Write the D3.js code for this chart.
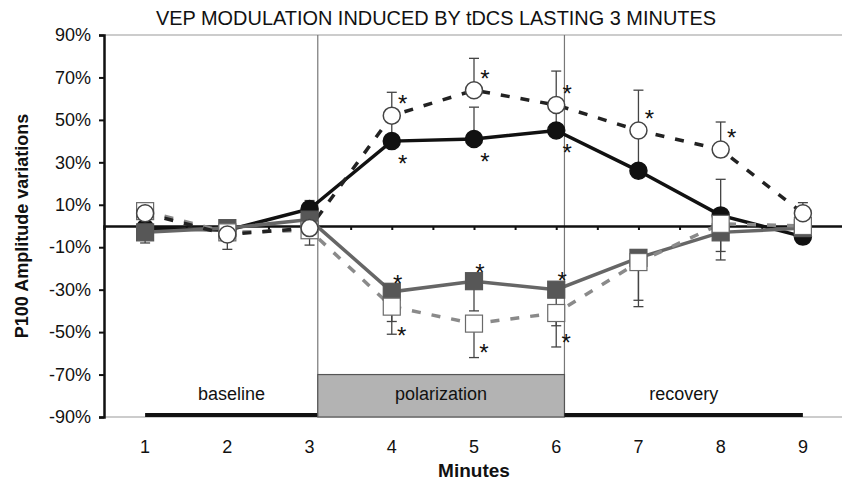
<!DOCTYPE html>
<html>
<head>
<meta charset="utf-8">
<script src="https://cdn.jsdelivr.net/npm/d3@7"></script>
<style>
    body { margin: 0; background: #fff; }
    text { font-family: "Liberation Sans", Arial, sans-serif; fill: #111; }
</style>
</head>
<body>
<div id="chart"></div>
<script>
// minutes of recording
const minutes = [1, 2, 3, 4, 5, 6, 7, 8, 9];
const yTicks = [90, 70, 50, 30, 10, -10, -30, -50, -70, -90];

// filled circles, solid black line
const filledCircle = [-1, -2, 8, 40, 41, 45, 26, 5, -5];
const filledCircleErr = [2, 2, 4, 12, 15, 14, 18, 17, 2];
const filledCircleSig = [0, 0, 0, 1, 1, 1, 0, 0, 0];

// open circles, dashed black line
const openCircle = [6, -4, -1, 52, 64, 57, 45, 36, 6];
const openCircleErr = [3, 3, 3, 11, 15, 16, 19, 13, 5];
const openCircleSig = [0, 0, 0, 1, 1, 1, 1, 1, 0];

// filled squares, solid grey line
const filledSquare = [-3, -1, 3, -31, -26, -30, -15, -3, -1];
const filledSquareErr = [5, 4, 4, 14, 14, 17, 20, 9, 3];
const filledSquareSig = [0, 0, 0, 1, 1, 1, 0, 0, 0];

// open squares, dashed grey line
const openSquare = [7, -3, -2, -38, -46, -41, -17, 1, 0];
const openSquareErr = [3, 8, 7, 13, 16, 16, 21, 17, 3];
const openSquareSig = [0, 0, 0, 1, 1, 1, 0, 0, 0];

// phases along the time axis
const phases = [
    { name: "baseline", from: 1, to: 3.1, boxed: false },
    { name: "polarization", from: 3.1, to: 6.1, boxed: true },
    { name: "recovery", from: 6.1, to: 9, boxed: false }
];

const width = 842, height = 483;
const margin = { top: 35, right: -2, bottom: 66, left: 104 };

const svg = d3.select("#chart").append("svg")
    .attr("width", width)
    .attr("height", height);

const x = d3.scaleLinear()
    .domain([0.5, 9.5])
    .range([margin.left, width - margin.right]);

const y = d3.scaleLinear()
    .domain([-90, 90])
    .range([height - margin.bottom, margin.top]);

// plot frame (grey)
svg.append("line")
    .attr("x1", x(0.5)).attr("x2", x(9.5))
    .attr("y1", y(90)).attr("y2", y(90))
    .attr("stroke", "#999").attr("stroke-width", 1);
svg.append("line")
    .attr("x1", x(0.5)).attr("x2", x(9.5))
    .attr("y1", y(-90)).attr("y2", y(-90))
    .attr("stroke", "#999").attr("stroke-width", 1);

// phase boundaries
[3.1, 6.1].forEach(b => {
    svg.append("line")
        .attr("x1", x(b)).attr("x2", x(b))
        .attr("y1", y(90)).attr("y2", y(-90))
        .attr("stroke", "#777").attr("stroke-width", 1.2);
});

// phase boxes / bars and labels
phases.forEach(p => {
    if (p.boxed) {
        svg.append("rect")
            .attr("x", x(p.from))
            .attr("y", y(-70))
            .attr("width", x(p.to) - x(p.from))
            .attr("height", y(-90) - y(-70))
            .attr("fill", "#b3b3b3")
            .attr("stroke", "#555")
            .attr("stroke-width", 1.2);
    } else {
        svg.append("line")
            .attr("x1", x(p.from)).attr("x2", x(p.to))
            .attr("y1", y(-89)).attr("y2", y(-89))
            .attr("stroke", "#111").attr("stroke-width", 4);
    }
    svg.append("text")
        .attr("x", (x(p.from) + x(p.to)) / 2)
        .attr("y", y(-79))
        .attr("dy", "0.35em")
        .attr("text-anchor", "middle")
        .style("font-size", "18px")
        .text(p.name);
});

// y axis
const yAxis = d3.axisLeft(y)
    .tickValues(yTicks)
    .tickFormat(d => d + "%")
    .tickSize(5)
    .tickPadding(8);

const gy = svg.append("g")
    .attr("transform", `translate(${margin.left}, 0)`)
    .call(yAxis);
gy.select(".domain").attr("stroke", "#111").attr("stroke-width", 2.5);
gy.selectAll(".tick line").attr("stroke", "#111").attr("stroke-width", 2);
gy.selectAll(".tick text")
    .style("font-size", "18px")
    .style("font-family", "'Liberation Sans', Arial, sans-serif")
    .attr("fill", "#111");

// zero line with small ticks
const xAxis = d3.axisBottom(x)
    .tickValues(d3.range(1, 9.6, 0.5))
    .tickSize(4)
    .tickFormat("");
const gx = svg.append("g")
    .attr("transform", `translate(0, ${y(0)})`)
    .call(xAxis);
gx.select(".domain").attr("stroke", "#111").attr("stroke-width", 2.5);
gx.selectAll(".tick line").attr("stroke", "#111").attr("stroke-width", 2);

// x tick labels below plot
svg.selectAll("text.x-label")
    .data(minutes)
    .enter()
    .append("text")
    .attr("class", "x-label")
    .attr("x", d => x(d))
    .attr("y", y(-90) + 30)
    .attr("dy", "0.35em")
    .attr("text-anchor", "middle")
    .style("font-size", "18px")
    .text(d => d);

// series
const series = [
    { values: filledCircle, err: filledCircleErr, sig: filledCircleSig, shape: "circle", fill: "#111", stroke: "#111", line: "#111", dash: null, dir: 1, star: [11, 14] },
    { values: filledSquare, err: filledSquareErr, sig: filledSquareSig, shape: "square", fill: "#575757", stroke: "#575757", line: "#666", dash: null, dir: -1, star: [6, -17] },
    { values: openSquare, err: openSquareErr, sig: openSquareSig, shape: "square", fill: "#fff", stroke: "#6a6a6a", line: "#8a8a8a", dash: "9,11", dir: -1, star: [10, 21] },
    { values: openCircle, err: openCircleErr, sig: openCircleSig, shape: "circle", fill: "#fff", stroke: "#444", line: "#222", dash: "9,11", dir: 1, star: [11, -20] }
];

const line = d3.line()
    .x(d => x(d.minute))
    .y(d => y(d.value));

const toPoints = s => minutes.map((m, i) => ({ minute: m, value: s.values[i], err: s.err[i], sig: s.sig[i] }));

// lines first
series.forEach(s => {
    svg.append("path")
        .datum(toPoints(s))
        .attr("d", line)
        .attr("fill", "none")
        .attr("stroke", s.line)
        .attr("stroke-width", 3.5)
        .attr("stroke-dasharray", s.dash);
});

// error bars
series.forEach(s => {
    const g = svg.append("g");
    const pts = toPoints(s);
    g.selectAll("line.err")
        .data(pts)
        .enter()
        .append("line")
        .attr("x1", d => x(d.minute)).attr("x2", d => x(d.minute))
        .attr("y1", d => y(d.value))
        .attr("y2", d => y(d.value + s.dir * d.err))
        .attr("stroke", "#444").attr("stroke-width", 1.3);
    g.selectAll("line.cap")
        .data(pts)
        .enter()
        .append("line")
        .attr("x1", d => x(d.minute) - 5).attr("x2", d => x(d.minute) + 5)
        .attr("y1", d => y(d.value + s.dir * d.err))
        .attr("y2", d => y(d.value + s.dir * d.err))
        .attr("stroke", "#444").attr("stroke-width", 1.3);
});

// markers
series.forEach(s => {
    const pts = toPoints(s);
    if (s.shape === "circle") {
        svg.append("g").selectAll("circle")
            .data(pts)
            .enter()
            .append("circle")
            .attr("cx", d => x(d.minute))
            .attr("cy", d => y(d.value))
            .attr("r", 8.5)
            .attr("fill", s.fill)
            .attr("stroke", s.stroke)
            .attr("stroke-width", 1.5);
    } else {
        svg.append("g").selectAll("rect")
            .data(pts)
            .enter()
            .append("rect")
            .attr("x", d => x(d.minute) - 8.5)
            .attr("y", d => y(d.value) - 8.5)
            .attr("width", 17)
            .attr("height", 17)
            .attr("fill", s.fill)
            .attr("stroke", s.stroke)
            .attr("stroke-width", 1.2);
    }
});

// significance asterisks
series.forEach(s => {
    svg.append("g").selectAll("text")
        .data(toPoints(s).filter(d => d.sig))
        .enter()
        .append("text")
        .attr("x", d => x(d.minute) + s.star[0])
        .attr("y", d => y(d.value) + s.star[1])
        .attr("dy", "0.7em")
        .attr("text-anchor", "middle")
        .style("font-size", "24px")
        .text("*");
});

// title and axis titles
svg.append("text")
    .attr("x", 436)
    .attr("y", 18)
    .attr("dy", "0.35em")
    .attr("text-anchor", "middle")
    .style("font-size", "20px")
    .attr("textLength", 560)
    .attr("lengthAdjust", "spacingAndGlyphs")
    .text("VEP MODULATION INDUCED BY tDCS LASTING 3 MINUTES");

svg.append("text")
    .attr("transform", `translate(22, ${y(0)}) rotate(-90)`)
    .attr("dy", "0.35em")
    .attr("text-anchor", "middle")
    .style("font-size", "18px")
    .style("font-weight", "bold")
    .text("P100 Amplitude variations");

svg.append("text")
    .attr("x", x(5))
    .attr("y", 470)
    .attr("dy", "0.35em")
    .attr("text-anchor", "middle")
    .style("font-size", "19px")
    .style("font-weight", "bold")
    .text("Minutes");
</script>
</body>
</html>
